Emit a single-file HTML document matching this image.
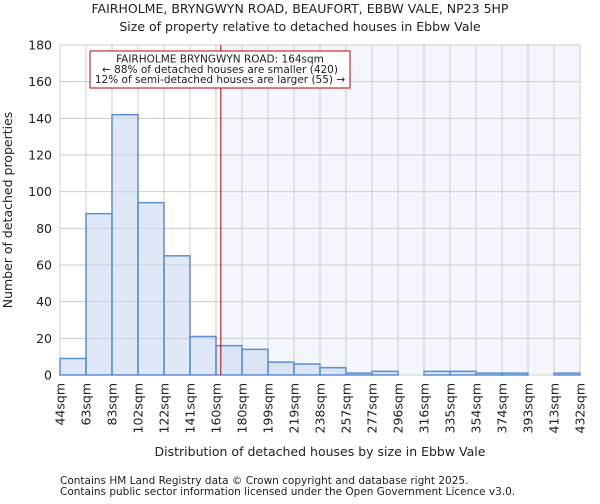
<!DOCTYPE html>
<html><head><meta charset="utf-8"><style>
body{margin:0;background:#fff;font-family:"DejaVu Sans","Liberation Sans",sans-serif;}
svg text{font-family:"DejaVu Sans","Liberation Sans",sans-serif;fill:#222;}
</style></head><body>
<svg id="chart" width="600" height="500" xmlns="http://www.w3.org/2000/svg">
<text x="300" y="13" font-size="12.5" text-anchor="middle">FAIRHOLME, BRYNGWYN ROAD, BEAUFORT, EBBW VALE, NP23 5HP</text>
<text x="300" y="31" font-size="12.5" text-anchor="middle">Size of property relative to detached houses in Ebbw Vale</text>
<g id="grid"></g><g id="bars"></g><g id="ticks"></g>
<text x="320" y="456" font-size="12.5" text-anchor="middle">Distribution of detached houses by size in Ebbw Vale</text>
<text transform="translate(12,210) rotate(-90)" font-size="12.5" text-anchor="middle">Number of detached properties</text>
<text x="60" y="484" font-size="10.5" fill="#444">Contains HM Land Registry data © Crown copyright and database right 2025.</text>
<text x="60" y="495" font-size="10.5" fill="#444">Contains public sector information licensed under the Open Government Licence v3.0.</text>
</svg>
<script>
const tickLabels=["44sqm","63sqm","83sqm","102sqm","122sqm","141sqm","160sqm","180sqm","199sqm","219sqm","238sqm","257sqm","277sqm","296sqm","316sqm","335sqm","354sqm","374sqm","393sqm","413sqm","432sqm"];
const counts=[9,88,142,94,65,21,16,14,7,6,4,1,2,0,2,2,1,1,0,1];
const yTicks=[0,20,40,60,80,100,120,140,160,180];
const propertySize=164;
const xMin=44,xMax=432,yMax=180;
const L=60,R=580,T=45,B=375;
const NS="http://www.w3.org/2000/svg";
const xb=i=>L+i*(R-L)/counts.length;
const xv=v=>L+(v-xMin)/(xMax-xMin)*(R-L);
const y=v=>B-v/yMax*(B-T);
function mk(p,t,a){const e=document.createElementNS(NS,t);for(const k in a)e.setAttribute(k,a[k]);p.appendChild(e);return e;}
const g=document.getElementById('grid'),bg=document.getElementById('bars'),tg=document.getElementById('ticks');
const px=xv(propertySize);
const shade=mk(g,'rect',{x:px,y:T,width:R-px,height:B-T,fill:'#f3f6fd'});


yTicks.forEach(v=>{
 const l=mk(g,'line',{x1:L,x2:R,y1:y(v),y2:y(v),stroke:'#cccccc','stroke-width':1});
 
 
 const t=mk(tg,'text',{x:L-8,y:y(v)+4.5,'font-size':12.5,'text-anchor':'end'});
 
 
 t.textContent=v;
});
tickLabels.forEach((s,i)=>{
 const x=xb(i);
 const l=mk(g,'line',{x1:x,x2:x,y1:T,y2:B,stroke:'#cccccc','stroke-width':1});
 
 
 const t=mk(tg,'text',{transform:`translate(${x+4.5},${B+8}) rotate(-90)`,'font-size':12.5,'text-anchor':'end'});
 
 
 t.textContent=s;
});
counts.forEach((c,i)=>{
 if(c<=0)return;
 const r=mk(bg,'rect',{x:xb(i),y:y(c),width:xb(i+1)-xb(i),height:B-y(c),fill:'rgba(196,213,238,0.55)',stroke:'#5b8fd4','stroke-width':1.5});
 
 
});
const pl=mk(bg,'line',{x1:px,x2:px,y1:T,y2:B,stroke:'#b00000','stroke-width':1});


const box=mk(bg,'rect',{x:90,y:51,width:260,height:37,fill:'#fff',stroke:'#c00000','stroke-width':1});


["FAIRHOLME BRYNGWYN ROAD: 164sqm","← 88% of detached houses are smaller (420)","12% of semi-detached houses are larger (55) →"].forEach((s,i)=>{
 const t=mk(bg,'text',{x:220,y:62.5+i*10.3,'font-size':10.5,'text-anchor':'middle'});
 
 
 t.textContent=s;
});
</script>
</body></html>
